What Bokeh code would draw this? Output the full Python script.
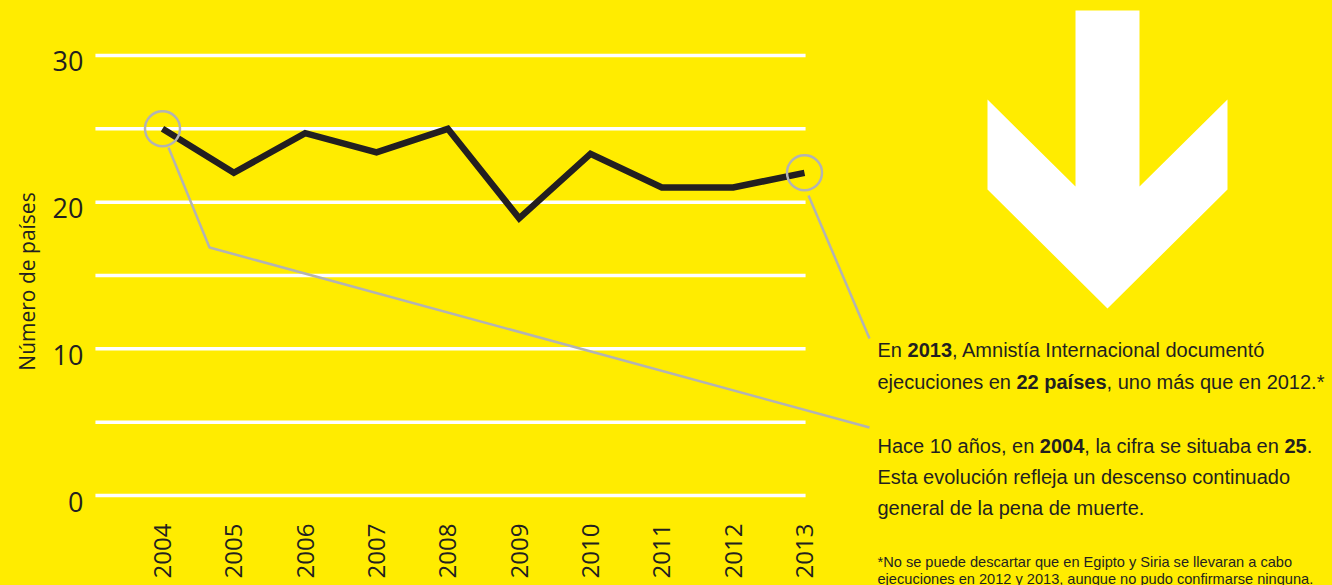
import math
from bokeh.plotting import figure
from bokeh.models import Label, Range1d
from bokeh.core.properties import value
from bokeh.embed import file_html
from bokeh.resources import INLINE

# ---------------- data ----------------
years = [2004, 2005, 2006, 2007, 2008, 2009, 2010, 2011, 2012, 2013]
countries = [25, 22, 24.7, 23.4, 25, 18.9, 23.3, 21, 21, 22]
y_ticks = [0, 10, 20, 30]
grid_values = [0, 5, 10, 15, 20, 25, 30]
year_labels = [str(y) for y in years]
y_tick_labels = [str(v) for v in y_ticks]

# ---------------- styling / layout ----------------
BG = "#FFEC00"
INK = "#231f20"
GREY = "#b3b3b3"
W, H = 1332, 585
PX_PER_YEAR = 71.333
PX_PER_UNIT = 14.667
Y0_PX = 495   # pixel row of value 0
X0_PX = 162   # pixel column of first year

x_start = years[0] - X0_PX / PX_PER_YEAR
x_end = x_start + W / PX_PER_YEAR
y_end = Y0_PX / PX_PER_UNIT
y_start = -(H - Y0_PX) / PX_PER_UNIT


def dx(px):
    return x_start + px / PX_PER_YEAR


def dy(py):
    return (Y0_PX - py) / PX_PER_UNIT


p = figure(width=W, height=H, x_range=Range1d(x_start, x_end), y_range=Range1d(y_start, y_end),
           toolbar_location=None, output_backend="svg",
           x_axis_location=None, y_axis_location=None,
           min_border_left=0, min_border_right=0, min_border_top=0, min_border_bottom=0)
p.background_fill_color = BG
p.border_fill_color = BG
p.outline_line_color = None
p.grid.visible = False

AXIS_FONT = value("Open Sans")

# grid lines limited to the chart area
n = len(grid_values)
p.segment(x0=[years[0] - 0.94] * n, x1=[years[-1] + 0.015] * n, y0=grid_values, y1=grid_values,
          line_color="white", line_width=3.5)

# y tick labels
p.text(x=[years[0] - 1.11] * len(y_ticks), y=y_ticks, text=y_tick_labels, y_offset=6,
       text_align="right", text_baseline="middle", text_font=AXIS_FONT,
       text_font_size="27px", text_color=INK)

# x tick labels (rotated)
p.text(x=years, y=[dy(523)] * len(years), text=year_labels, angle=math.pi / 2,
       text_align="right", text_baseline="middle", text_font=AXIS_FONT,
       text_font_size="24px", text_color=INK)

# leader lines (pixel geometry)
lead1 = [(168, 147), (209, 247), (869, 427)]
lead2 = [(808, 195), (869, 338)]
for pts in (lead1, lead2):
    p.line([dx(a) for a, b in pts], [dy(b) for a, b in pts], line_color=GREY, line_width=2.5)

# main line
p.line(years, countries, line_color=INK, line_width=6.5, line_join="miter")

# highlight circles
p.scatter([years[0], years[-1]], [countries[0], countries[-1]], size=35, marker="circle",
          fill_color=None, line_color=GREY, line_width=2.5)

# big arrow
arrow = [(1075, 10), (1139, 10), (1139, 186), (1227, 99), (1227, 189), (1107, 308),
         (987, 189), (987, 99), (1075, 186)]
p.patch([dx(a) for a, b in arrow], [dy(b) for a, b in arrow], fill_color="white", line_color=None)

# y axis title
p.add_layout(Label(x=dx(26), y=dy(281), text="Número de países", angle=math.pi / 2,
                   text_align="center", text_baseline="alphabetic",
                   text_font="Open Sans", text_font_size="21px", text_color=INK))

# annotation text (Liberation Sans = Arial metrics)
FONT = "Liberation Sans"
REG = {' ': 278, ',': 278, '.': 278, '*': 389, 'A': 667, 'E': 667, 'H': 722, 'I': 278, 'N': 722,
       'S': 667, 'a': 556, 'b': 556, 'c': 500, 'd': 556, 'e': 556, 'f': 278, 'g': 556, 'h': 556,
       'i': 222, 'j': 222, 'l': 222, 'm': 833, 'n': 556, 'o': 556, 'p': 556, 'q': 556, 'r': 333,
       's': 500, 't': 278, 'u': 556, 'v': 500, 'y': 500, 'í': 278, 'á': 556, 'ñ': 556, 'ó': 556,
       'ú': 556}
BOLD = {' ': 278, ',': 278, '.': 278, 'a': 556, 'e': 556, 'í': 278, 'i': 278, 'p': 611, 's': 556}
for d in "0123456789":
    REG[d] = 556
    BOLD[d] = 556


def text_width(s, bold, size):
    table = BOLD if bold else REG
    return sum(table.get(ch, 556) for ch in s) / 1000.0 * size


def add_line(segments, x_px, y_px, size):
    x = x_px
    for txt, bold in segments:
        p.add_layout(Label(x=dx(x), y=dy(y_px), text=txt, text_font=FONT,
                           text_font_size=f"{size}px",
                           text_font_style="bold" if bold else "normal",
                           text_color=INK, text_baseline="alphabetic", text_align="left"))
        x += text_width(txt, bold, size)


TX = 877
S = 20
add_line([("En ", False), ("2013", True), (", Amnistía Internacional documentó", False)], TX, 349, S)
add_line([("ejecuciones en ", False), ("22 países", True), (", uno más que en 2012.*", False)], TX, 381, S)
add_line([("Hace 10 años, en ", False), ("2004", True), (", la cifra se situaba en ", False),
          ("25", True), (".", False)], TX, 445, S)
add_line([("Esta evolución refleja un descenso continuado", False)], TX, 476, S)
add_line([("general de la pena de muerte.", False)], TX, 507, S)
add_line([("*No se puede descartar que en Egipto y Siria se llevaran a cabo", False)], TX, 561, 14.6)
add_line([("ejecuciones en 2012 y 2013, aunque no pudo confirmarse ninguna.", False)], TX, 578, 14.6)

html = file_html(p, INLINE)
html = html.replace("</head>", "<style>html,body{margin:0;padding:0;background:%s;overflow:hidden;}</style></head>" % BG, 1)
open("out.html", "w").write(html)
